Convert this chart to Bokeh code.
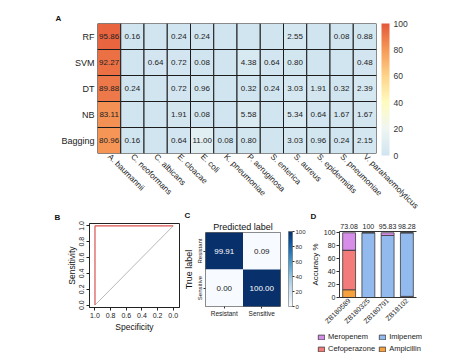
import math
import numpy as np
from bokeh.plotting import figure
from bokeh.layouts import column, row
from bokeh.models import (ColumnDataSource, LinearColorMapper, ColorBar, FixedTicker,
                          Legend, LegendItem, Range1d, FactorRange, Title,
                          PrintfTickFormatter, CategoricalAxis)
from bokeh.transform import transform
from bokeh.palettes import Blues256
from bokeh.core.properties import value
from bokeh.embed import file_html
from bokeh.resources import INLINE

FONT = "Liberation Sans"

# ---------------- Panel A data ----------------
species = ["A. baumannii", "C. neoformans", "C. albicans", "E. cloacae", "E. coli",
           "K. pneumoniae", "P. aeruginosa", "S. enterica", "S. aureus",
           "S. epidermidis", "S. pneumoniae", "V. parahaemolyticus"]
models = ["RF", "SVM", "DT", "NB", "Bagging"]
rf = [95.86, 0.16, None, 0.24, 0.24, None, None, None, 2.55, None, 0.08, 0.88]
svm = [92.27, None, 0.64, 0.72, 0.08, None, 4.38, 0.64, 0.80, None, None, 0.48]
dt = [89.88, 0.24, None, 0.72, 0.96, None, 0.32, 0.24, 3.03, 1.91, 0.32, 2.39]
nb = [83.11, None, None, 1.91, 0.08, None, 5.58, None, 5.34, 0.64, 1.67, 1.67]
bagging = [80.96, 0.16, None, 0.64, 11.00, 0.08, 0.80, None, 3.03, 0.96, 0.24, 2.15]
heat_ticks = [0, 20, 40, 60, 80, 100]

# ---------------- Panel B data ----------------
roc_specificity = [1.0, 1.0, 0.0]
roc_sensitivity = [0.0, 1.0, 1.0]
ref_specificity = [1.0, 0.0]
ref_sensitivity = [0.0, 1.0]
roc_ticks = [0.0, 0.2, 0.4, 0.6, 0.8, 1.0]

# ---------------- Panel C data ----------------
cm_true = ["Resistant", "Resistant", "Sensitive", "Sensitive"]
cm_pred = ["Resistant", "Sensitive", "Resistant", "Sensitive"]
cm_values = [99.91, 0.09, 0.00, 100.00]
cm_ticks = [0, 20, 40, 60, 80, 100]

# ---------------- Panel D data ----------------
strains = ["ZB180589", "ZB180325", "ZB180791", "ZB18102"]
ampicillin = [12.0, 0.0, 0.0, 0.0]
cefoperazone = [61.08, 0.0, 0.0, 1.72]
imipenem = [0.0, 100.0, 95.83, 98.28]
meropenem = [26.92, 0.0, 4.17, 0.0]
accuracy_text = ["73.08", "100", "95.83", "98.28"]
acc_ticks = [0, 20, 40, 60, 80, 100]


def ramp(stops, n=256):
    pos = np.array([s[0] for s in stops])
    rgb = np.array([[int(c[i:i + 2], 16) for i in (1, 3, 5)] for _, c in stops], float)
    out = []
    for v in np.linspace(0, 1, n):
        r = [np.interp(v, pos, rgb[:, k]) for k in range(3)]
        out.append("#%02x%02x%02x" % tuple(int(round(x)) for x in r))
    return out


heat_palette = ramp([(0.0, "#d1e5f0"), (0.2, "#eff6f3"), (0.4, "#fffcc0"),
                     (0.6, "#fed58a"), (0.8, "#f69a58"), (1.0, "#e5583a")])


def style_axes(p, label_size="7px", title_size="8.5px"):
    for ax in p.axis:
        ax.major_label_text_font = FONT
        ax.major_label_text_font_size = label_size
        ax.major_label_text_color = "#222222"
        ax.axis_label_text_font = FONT
        ax.axis_label_text_font_size = title_size
        ax.axis_label_text_font_style = "normal"
        ax.axis_label_text_color = "#111111"
        ax.minor_tick_line_color = None


def letter(p, txt, offset, standoff=1):
    t = Title(text=txt, align="left", offset=offset, standoff=standoff,
              text_font=FONT, text_font_size="8px", text_font_style="bold",
              text_color="#111111")
    p.add_layout(t, "above")


# ======================= Panel A =======================
model_rows = {"RF": rf, "SVM": svm, "DT": dt, "NB": nb, "Bagging": bagging}
xs, ys, vals, labs = [], [], [], []
for m in models:
    for s, v in zip(species, model_rows[m]):
        xs.append(s)
        ys.append(m)
        vals.append(0.0 if v is None else v)
        labs.append("" if v is None else f"{v:.2f}")
srcA = ColumnDataSource(dict(species=xs, model=ys, val=vals, label=labs))
mapA = LinearColorMapper(palette=heat_palette, low=0, high=100)

TOP_H = 218
pA = figure(width=474, height=TOP_H, x_range=FactorRange(*species),
            y_range=FactorRange(*models[::-1]), output_backend="svg",
            toolbar_location=None, min_border_left=97, min_border_right=98,
            min_border_top=23, min_border_bottom=TOP_H - 153, frame_align=False)
pA.rect(x="species", y="model", width=1, height=1, source=srcA,
        fill_color=transform("val", mapA), line_color="#1c1c1c", line_width=1)
pA.text(x="species", y="model", text="label", source=srcA, text_align="center",
        text_baseline="middle", text_font=value(FONT), text_font_size="8px",
        text_color="#222222")
pA.grid.grid_line_color = None
pA.outline_line_color = None
style_axes(pA)
for ax in pA.axis:
    ax.axis_line_color = None
    ax.major_tick_line_color = None
    ax.major_tick_out = 0
    ax.major_tick_in = 0
pA.xaxis.major_label_orientation = -math.pi / 4
pA.xaxis.major_label_standoff = 2
pA.xaxis.major_label_text_font_size = "8.2px"
pA.yaxis.major_label_standoff = 3
pA.yaxis.major_label_text_font_size = "9px"
letter(pA, "A", -42, standoff=1)

cbA = ColorBar(color_mapper=mapA, ticker=FixedTicker(ticks=heat_ticks),
               location=(284, -2), width=8, height=132, padding=0, margin=0,
               label_standoff=4, major_tick_line_color=None,
               major_label_text_font=FONT, major_label_text_font_size="8.5px",
               major_label_text_color="#333333", bar_line_color=None,
               border_line_color=None, background_fill_alpha=0)
pA.add_layout(cbA)

# bottom row: overlaps the top figure by OVER px (transparent borders)
OVER = 10
ROW_TOP = TOP_H - OVER
BH = 354 - ROW_TOP

# ======================= Panel B =======================
pB = figure(width=180, height=BH, x_range=Range1d(1.07, -0.08), y_range=Range1d(-0.03, 1.03),
            output_backend="svg", toolbar_location=None, min_border_left=89,
            min_border_right=1, min_border_top=222 - ROW_TOP,
            min_border_bottom=354 - 307, frame_align=False)
pB.border_fill_alpha = 0
pB.line(ref_specificity, ref_sensitivity, line_color="#b8b8b8", line_width=1)
pB.line(roc_specificity, roc_sensitivity, line_color="#d9534f", line_width=1.2)
pB.grid.grid_line_color = None
pB.outline_line_color = "#222222"
style_axes(pB, "7px", "8.5px")
for ax in pB.axis:
    ax.ticker = FixedTicker(ticks=roc_ticks)
    ax.formatter = PrintfTickFormatter(format="%.1f")
    ax.major_tick_out = 3
    ax.major_tick_in = 0
    ax.major_label_standoff = 2
    ax.axis_label_standoff = 1
    ax.axis_line_color = "#222222"
    ax.major_tick_line_color = "#222222"
pB.xaxis.axis_label = "Specificity"
pB.yaxis.axis_label = "Sensitivity"
pB.yaxis.major_label_orientation = "vertical"
pB.yaxis.axis_label_standoff = 0
letter(pB, "B", -35, standoff=4)

# ======================= Panel C =======================
srcC = ColumnDataSource(dict(pred=cm_pred, true=cm_true, val=cm_values,
                             label=[f"{v:.2f}" for v in cm_values],
                             tcol=["white" if v > 50 else "#222222" for v in cm_values]))
mapC = LinearColorMapper(palette=list(reversed(Blues256)), low=0, high=100)
C_W = 127
pC = figure(width=C_W, height=BH, x_range=FactorRange("Resistant", "Sensitive"),
            y_range=FactorRange("Sensitive", "Resistant"), output_backend="svg",
            toolbar_location=None, min_border_left=23, min_border_right=C_W - 23 - 77,
            min_border_top=231 - ROW_TOP, min_border_bottom=354 - 306, frame_align=False)
pC.border_fill_alpha = 0
pC.rect(x="pred", y="true", width=1, height=1, source=srcC,
        fill_color=transform("val", mapC), line_color=None)
pC.text(x="pred", y="true", text="label", source=srcC, text_align="center",
        text_baseline="middle", text_font=value(FONT), text_font_size="8px",
        text_color="tcol")
pC.grid.grid_line_color = None
pC.outline_line_color = "#666666"
style_axes(pC, "6.5px", "9px")
for ax in pC.axis:
    ax.axis_line_color = None
    ax.major_tick_out = 2
    ax.major_tick_in = 0
    ax.major_tick_line_color = "#333333"
    ax.major_label_standoff = 1
    ax.axis_label_standoff = 0
pC.yaxis.axis_label = "True label"
pC.yaxis.major_label_orientation = "vertical"
pC.yaxis.major_label_text_font_size = "6px"
pC.add_layout(Title(text="Predicted label", align="center", standoff=1, text_font=FONT,
                    text_font_size="9px", text_font_style="normal",
                    text_color="#111111"), "above")
letter(pC, "C", -21, standoff=0)
cbC = ColorBar(color_mapper=mapC, ticker=FixedTicker(ticks=cm_ticks),
               location=(83, 0), width=4, height=75, padding=0, margin=0,
               label_standoff=1, major_tick_in=0, major_tick_out=2,
               major_tick_line_color="#333333", major_label_text_font=FONT,
               major_label_text_font_size="6px", major_label_text_color="#333333",
               bar_line_color="#555555", bar_line_width=0.5,
               border_line_color=None, background_fill_alpha=0)
pC.add_layout(cbC)

# ======================= Panel D =======================
stack_names = ["Ampicillin", "Cefoperazone", "Imipenem", "Meropenem"]
stack_colors = ["#f6a13d", "#f37c7a", "#92baee", "#d68ee8"]
srcD = ColumnDataSource(dict(strain=strains, Ampicillin=ampicillin, Cefoperazone=cefoperazone,
                             Imipenem=imipenem, Meropenem=meropenem))
D_W = 474 - 180 - C_W
LEG_H = 24
D_H = BH - LEG_H
pD = figure(width=D_W, height=D_H, x_range=FactorRange(*strains), y_range=Range1d(0, 102),
            output_backend="svg", toolbar_location=None, min_border_left=334 - (180 + C_W),
            min_border_right=474 - 416, min_border_top=231 - ROW_TOP,
            min_border_bottom=(ROW_TOP + D_H) - 298, frame_align=False)
pD.border_fill_alpha = 0
pD.extra_x_ranges = {"acc": FactorRange(*accuracy_text)}
rs = pD.vbar_stack(stack_names, x="strain", width=0.67, source=srcD,
                   fill_color=stack_colors, line_color="#3a3a3a", line_width=0.8)
pD.grid.grid_line_color = None
pD.outline_line_color = None
acc_axis = CategoricalAxis(x_range_name="acc", axis_line_color=None,
                           major_tick_line_color=None, major_tick_out=0, major_tick_in=0,
                           major_label_standoff=3)
pD.add_layout(acc_axis, "above")
style_axes(pD, "7px", "8px")
for ax in pD.axis:
    ax.major_tick_in = 0
pD.yaxis.axis_line_color = "#333333"
pD.yaxis.major_tick_line_color = "#333333"
pD.xaxis.axis_line_color = "#333333"
pD.yaxis.ticker = FixedTicker(ticks=acc_ticks)
pD.yaxis.major_tick_out = 3
pD.yaxis.major_label_standoff = 1
pD.yaxis.axis_label = "Accuracy %"
pD.yaxis.axis_label_standoff = 1
pD.below[0].major_tick_out = 0
pD.below[0].major_tick_line_color = None
pD.below[0].major_label_orientation = math.pi / 4
pD.below[0].major_label_standoff = 2
acc_axis.major_label_text_font_size = "7px"
letter(pD, "D", -29, standoff=0)

# legend strip under panel D: its bars fall below this strip's y-range (off the page)
pL = figure(width=D_W, height=LEG_H, x_range=FactorRange(*strains),
            y_range=Range1d(200, 300), output_backend="svg", toolbar_location=None,
            min_border=0, x_axis_location=None, y_axis_location=None, frame_align=False)
pL.border_fill_alpha = 0
pL.background_fill_alpha = 0
pL.outline_line_color = None
pL.grid.grid_line_color = None
rl = pL.vbar_stack(stack_names, x="strain", width=0.67, source=srcD,
                   fill_color=stack_colors, line_color="#3a3a3a", line_width=0.8)
legend_order = [3, 2, 1, 0]
leg = Legend(items=[LegendItem(label=stack_names[k], renderers=[rl[k]]) for k in legend_order],
             location=(317 - (180 + C_W), 1), orientation="horizontal", ncols=2,
             padding=0, margin=0, spacing=3, glyph_width=8, glyph_height=6,
             label_height=9, label_standoff=3, label_text_font=FONT,
             label_text_font_size="7.5px", label_text_color="#222222",
             border_line_color=None, background_fill_alpha=0)
pL.add_layout(leg)

bottom = row(pB, pC, column(pD, pL), styles={"margin-top": f"-{OVER}px"})
layout = column(pA, bottom)
open("out.html", "w").write(file_html(layout, INLINE))
